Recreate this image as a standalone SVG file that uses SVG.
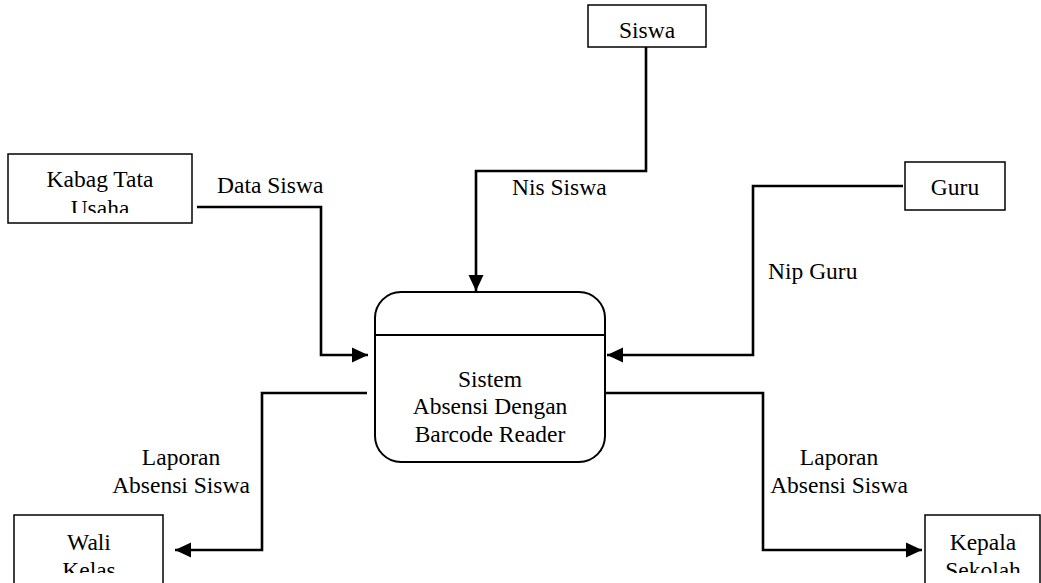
<svg xmlns="http://www.w3.org/2000/svg" width="1041" height="583" viewBox="0 0 1041 583">
  <style>
    .box { fill: #ffffff; stroke: #000000; stroke-width: 1.5; }
    .proc { fill: #ffffff; stroke: #000000; stroke-width: 2; }
    .flow { fill: none; stroke: #000000; stroke-width: 2.6; stroke-linejoin: miter; }
    text { font-family: "Liberation Serif", "Times New Roman", serif; font-size: 23.5px; fill: #000000; }
    .c { text-anchor: middle; }
  </style>
  <defs>
    <marker id="arrow" markerUnits="userSpaceOnUse" markerWidth="16" markerHeight="16" viewBox="0 0 16 16" refX="16" refY="8" orient="auto">
      <path d="M0,0.5 L16,8 L0,15.5 Z" fill="#000000"/>
    </marker>
    <clipPath id="clipKabag"><rect x="8" y="154" width="184" height="59"/></clipPath>
    <clipPath id="clipWali"><rect x="14" y="515" width="149" height="58"/></clipPath>
    <clipPath id="clipKepala"><rect x="925" y="515" width="116" height="58"/></clipPath>
  </defs>

  <g id="connectors">
    <path class="flow" d="M197,207 H321 V355 H368" marker-end="url(#arrow)"/>
    <path class="flow" d="M646,47 V171 H476 V291" marker-end="url(#arrow)"/>
    <path class="flow" d="M903,186 H753 V355 H607" marker-end="url(#arrow)"/>
    <path class="flow" d="M367,393 H262 V550 H175" marker-end="url(#arrow)"/>
    <path class="flow" d="M605,393 H763 V550 H922" marker-end="url(#arrow)"/>
    <text x="217" y="193">Data Siswa</text>
    <text x="512" y="195">Nis Siswa</text>
    <text x="768" y="279">Nip Guru</text>
    <text class="c" x="181" y="465">Laporan</text>
    <text class="c" x="181" y="493">Absensi Siswa</text>
    <text class="c" x="839" y="465">Laporan</text>
    <text class="c" x="839" y="493">Absensi Siswa</text>
  </g>

  <g id="kabag">
    <rect class="box" x="8" y="154" width="184" height="69"/>
    <g clip-path="url(#clipKabag)">
      <text class="c" x="100" y="187">Kabag Tata</text>
      <text class="c" x="100" y="216">Usaha</text>
    </g>
  </g>

  <g id="siswa">
    <rect class="box" x="588" y="5" width="118" height="42"/>
    <text class="c" x="647" y="38">Siswa</text>
  </g>

  <g id="guru">
    <rect class="box" x="905" y="162" width="100" height="48"/>
    <text class="c" x="955" y="195">Guru</text>
  </g>

  <g id="proses">
    <rect class="proc" x="375" y="292" width="230" height="170" rx="26" ry="26"/>
    <line class="proc" x1="375" y1="335" x2="605" y2="335"/>
    <text class="c" x="490" y="387">Sistem</text>
    <text class="c" x="490" y="414">Absensi Dengan</text>
    <text class="c" x="490" y="442">Barcode Reader</text>
  </g>

  <g id="wali">
    <rect class="box" x="14" y="515" width="149" height="80"/>
    <g clip-path="url(#clipWali)">
      <text class="c" x="89" y="550">Wali</text>
      <text class="c" x="89" y="578">Kelas</text>
    </g>
  </g>

  <g id="kepala">
    <rect class="box" x="925" y="515" width="115" height="80"/>
    <g clip-path="url(#clipKepala)">
      <text class="c" x="983" y="550">Kepala</text>
      <text class="c" x="983" y="578">Sekolah</text>
    </g>
  </g>
</svg>
